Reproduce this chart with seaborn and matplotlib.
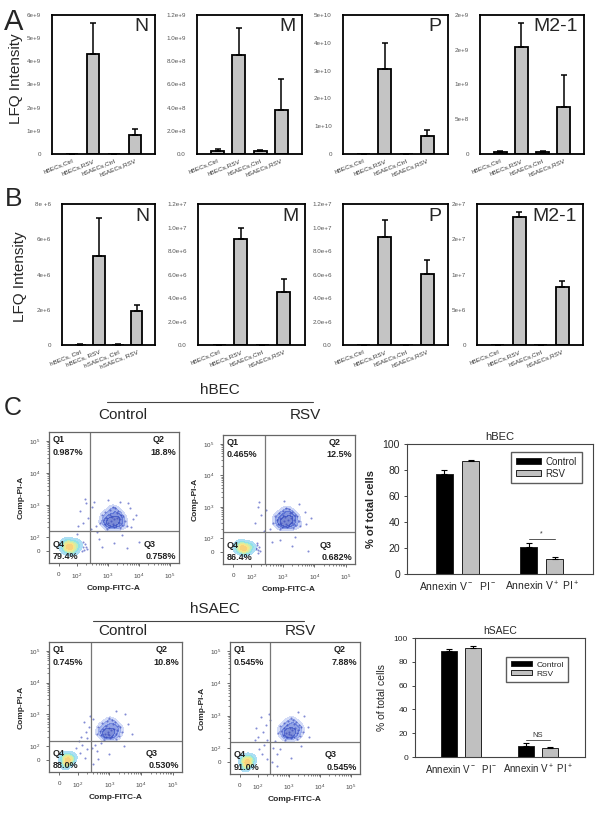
import numpy as np
import pandas as pd
import matplotlib
matplotlib.use("Agg")
import matplotlib.pyplot as plt
from matplotlib.colors import LinearSegmentedColormap
import seaborn as sns

sns.set_style("white")
plt.rcParams['font.family'] = ['Liberation Sans', 'DejaVu Sans']
plt.rcParams['mathtext.fontset'] = 'custom'
plt.rcParams['mathtext.rm'] = 'Liberation Sans'
plt.rcParams['mathtext.it'] = 'Liberation Sans'
plt.rcParams['mathtext.bf'] = 'Liberation Sans:bold'

# ---- LFQ data (panel A: proteomics, panel B: second run) ----
groups = ["hBECs,Ctrl", "hBECs,RSV", "hSAECs,Ctrl", "hSAECs,RSV"]
groups_sp = ["hBECs, Ctrl", "hBECs, RSV", "hSAECs, Ctrl", "hSAECs, RSV"]

a_n = [1.0e7, 4.30e9, 5.0e6, 0.80e9]
a_n_err = [5.0e6, 1.35e9, 3.0e6, 0.30e9]
a_m = [2.9e7, 8.55e8, 2.3e7, 3.82e8]
a_m_err = [1.4e7, 2.30e8, 0.9e7, 2.68e8]
a_p = [3.0e7, 3.05e10, 3.0e7, 0.63e10]
a_p_err = [1.0e7, 0.93e10, 1.0e7, 0.22e10]
a_m21 = [2.4e7, 1.54e9, 3.4e7, 6.7e8]
a_m21_err = [1.4e7, 0.35e9, 1.1e7, 4.6e8]

b_n = [2.0e4, 5.03e6, 2.0e4, 1.91e6]
b_n_err = [1.0e4, 2.20e6, 1.0e4, 0.35e6]
b_m = [3.0e4, 8.99e6, 3.0e4, 4.52e6]
b_m_err = [1.0e4, 0.93e6, 1.0e4, 1.07e6]
b_p = [3.0e4, 9.16e6, 3.0e4, 6.07e6]
b_p_err = [1.0e4, 1.44e6, 1.0e4, 1.18e6]
b_m21 = [3.0e4, 1.816e7, 3.0e4, 0.82e7]
b_m21_err = [1.0e4, 0.07e7, 1.0e4, 0.086e7]

a_n_ticks = [0, 1e9, 2e9, 3e9, 4e9, 5e9, 6e9]
a_n_labels = ["0", "1e+9", "2e+9", "3e+9", "4e+9", "5e+9", "6e+9"]
a_m_ticks = [0, 2e8, 4e8, 6e8, 8e8, 1.0e9, 1.2e9]
a_m_labels = ["0.0", "2.0e+8", "4.0e+8", "6.0e+8", "8.0e+8", "1.0e+9", "1.2e+9"]
a_p_ticks = [0, 1e10, 2e10, 3e10, 4e10, 5e10]
a_p_labels = ["0", "1e+10", "2e+10", "3e+10", "4e+10", "5e+10"]
a_m21_ticks = [0, 5e8, 1e9, 1.5e9, 2e9]
a_m21_labels = ["0", "5e+8", "1e+9", "2e+9", "2e+9"]
b_n_ticks = [0, 2e6, 4e6, 6e6, 8e6]
b_n_labels = ["0", "2e+6", "4e+6", "6e+6", "8e +6"]
b_mp_ticks = [0, 2e6, 4e6, 6e6, 8e6, 1.0e7, 1.2e7]
b_mp_labels = ["0.0", "2.0e+6", "4.0e+6", "6.0e+6", "8.0e+6", "1.0e+7", "1.2e+7"]
b_m21_ticks = [0, 5e6, 1e7, 1.5e7, 2e7]
b_m21_labels = ["0", "5e+6", "1e+7", "2e+7", "2e+7"]

# ---- flow cytometry (decade units: 10^2=1, 10^3=2 ...) ----
f1_cloud_x = [2.10, 2.20, 2.00, 2.30, 2.15, 2.25, 1.95, 2.05, 2.35, 2.40, 1.90, 2.12, 2.18, 2.28, 2.45,
              1.85, 2.02, 2.50, 2.08, 2.22, 1.80, 2.38, 2.55, 1.98, 2.32, 2.60, 1.75, 2.15, 2.42, 1.92]
f1_cloud_y = [1.50, 1.55, 1.45, 1.60, 1.40, 1.35, 1.60, 1.70, 1.45, 1.55, 1.40, 1.62, 1.30, 1.75, 1.38,
              1.52, 1.32, 1.65, 1.85, 1.90, 1.70, 1.28, 1.50, 1.25, 1.82, 1.35, 1.45, 1.95, 1.70, 1.78]
f1_spread_x = [1.20, 1.35, 1.10, 1.50, 1.30, 1.60, 1.55, 2.70, 2.80, 2.65, 1.45, 2.90, 1.05, 1.25, 2.00, 2.40,
               2.75, 1.70, 2.20, 2.60, 1.80, 3.00, 1.65, 2.45, 1.00,
               1.18, 1.22, 1.25, 1.15, 1.28, 1.20, 1.32, 1.12]
f1_spread_y = [1.45, 1.60, 1.80, 1.95, 2.05, 1.35, 2.10, 1.90, 1.55, 2.05, 1.25, 1.70, 1.35, 2.20, 2.15, 2.10,
               1.30, 0.95, 0.80, 0.65, 0.70, 0.85, 1.15, 1.05, 1.10,
               0.70, 0.60, 0.78, 0.55, 0.68, 0.85, 0.62, 0.75]
f1_blob_x = [0.70, 0.75, 0.80, 0.65, 0.85, 0.72, 0.60, 0.90, 0.78, 0.68, 1.00, 0.95]
f1_blob_y = [0.70, 0.65, 0.75, 0.60, 0.68, 0.80, 0.72, 0.58, 0.55, 0.85, 0.72, 0.82]

f2_cloud_x = [2.05, 2.15, 1.95, 2.25, 2.10, 2.20, 1.90, 2.00, 2.30, 2.35, 1.85, 2.08, 2.12, 2.22, 2.40,
              1.80, 1.98, 2.45, 2.02, 2.18, 1.75, 2.32, 2.50, 1.92, 2.28, 2.55, 1.70, 2.10, 2.38, 1.88]
f2_cloud_y = [1.55, 1.60, 1.50, 1.65, 1.45, 1.40, 1.65, 1.75, 1.50, 1.60, 1.45, 1.68, 1.35, 1.80, 1.42,
              1.58, 1.36, 1.70, 1.88, 1.92, 1.72, 1.32, 1.55, 1.30, 1.85, 1.40, 1.50, 1.98, 1.75, 1.82]
f2_spread_x = [1.10, 1.30, 1.20, 1.45, 1.60, 2.70, 2.75, 1.40, 2.90, 1.25, 2.05, 2.50, 1.65, 2.30, 2.80,
               1.90, 2.40, 1.15, 1.20, 1.18, 1.22, 1.14, 1.25, 1.17, 1.28]
f2_spread_y = [1.50, 1.75, 2.00, 1.90, 1.30, 1.85, 1.45, 1.25, 1.65, 2.15, 2.20, 2.10, 0.90, 0.75, 0.60,
               0.95, 1.05, 0.70, 0.62, 0.78, 0.55, 0.66, 0.72, 0.85, 0.60]
f2_blob_x = [0.70, 0.74, 0.78, 0.64, 0.84, 0.70, 0.58, 0.88, 0.76, 0.66, 0.98, 0.92]
f2_blob_y = [0.70, 0.66, 0.74, 0.62, 0.68, 0.80, 0.72, 0.60, 0.56, 0.84, 0.72, 0.80]

f3_cloud_x = [1.95, 2.05, 1.85, 2.15, 2.00, 2.10, 1.80, 1.90, 2.20, 2.25, 1.75, 1.98, 2.02, 2.12, 2.30,
              1.70, 1.88, 2.35, 1.92, 2.08, 1.65, 2.22, 2.40, 1.82, 2.18, 1.60, 2.00, 2.28, 1.78, 1.95]
f3_cloud_y = [1.45, 1.50, 1.40, 1.55, 1.35, 1.30, 1.55, 1.65, 1.40, 1.50, 1.35, 1.58, 1.25, 1.70, 1.32,
              1.48, 1.28, 1.60, 1.78, 1.82, 1.62, 1.22, 1.45, 1.20, 1.75, 1.40, 1.88, 1.65, 1.72, 1.38]
f3_spread_x = [1.10, 1.25, 1.35, 1.50, 1.05, 1.20, 1.40, 2.60, 2.70, 1.30, 2.50, 1.55, 1.60, 1.45, 1.65,
               1.50, 2.00, 2.45, 1.75, 2.20, 0.95, 1.15, 1.30, 1.08, 1.22]
f3_spread_y = [1.30, 1.45, 1.60, 1.85, 1.15, 1.75, 1.95, 1.70, 1.40, 1.25, 2.00, 1.05, 0.85, 0.95, 0.60,
               0.45, 0.75, 1.00, 1.10, 2.10, 0.95, 1.05, 0.90, 0.80, 0.62]
f3_blob_x = [0.65, 0.70, 0.60, 0.75, 0.68, 0.55, 0.80, 0.72, 0.62, 0.85, 0.58]
f3_blob_y = [0.55, 0.60, 0.50, 0.58, 0.45, 0.62, 0.52, 0.70, 0.40, 0.64, 0.68]

f4_cloud_x = [2.00, 2.10, 1.90, 2.20, 2.05, 2.15, 1.85, 1.95, 2.25, 2.30, 1.80, 2.03, 2.07, 2.17, 2.35,
              1.75, 1.93, 2.40, 1.97, 2.13, 1.70, 2.27, 2.45, 1.87, 2.23, 1.65, 2.05, 2.33, 1.83, 2.00]
f4_cloud_y = [1.50, 1.55, 1.45, 1.60, 1.40, 1.35, 1.60, 1.70, 1.45, 1.55, 1.40, 1.63, 1.30, 1.75, 1.37,
              1.53, 1.33, 1.65, 1.83, 1.87, 1.67, 1.27, 1.50, 1.25, 1.80, 1.45, 1.92, 1.70, 1.77, 1.43]
f4_spread_x = [1.00, 1.15, 1.25, 1.40, 0.95, 1.10, 1.30, 1.35, 2.60, 2.65, 1.55, 2.50, 1.50, 1.60, 1.45,
               1.70, 2.05, 2.40, 1.20, 1.05, 0.90, 1.12, 1.28, 1.60, 2.30]
f4_spread_y = [1.35, 1.50, 1.70, 1.85, 1.60, 1.95, 1.25, 2.05, 1.65, 1.35, 1.20, 2.00, 1.00, 0.80, 0.55,
               0.95, 0.70, 1.05, 1.10, 0.95, 1.25, 0.80, 0.65, 0.45, 2.10]
f4_blob_x = [0.62, 0.67, 0.57, 0.72, 0.65, 0.52, 0.77, 0.70, 0.60, 0.82, 0.55]
f4_blob_y = [0.55, 0.60, 0.50, 0.58, 0.45, 0.62, 0.52, 0.70, 0.40, 0.64, 0.68]

q_hbec_ctrl = ["0.987%", "18.8%", "0.758%", "79.4%"]
q_hbec_rsv = ["0.465%", "12.5%", "0.682%", "86.4%"]
q_hsaec_ctrl = ["0.745%", "10.8%", "0.530%", "88.0%"]
q_hsaec_rsv = ["0.545%", "7.88%", "0.545%", "91.0%"]

flow_ticks = [0.42, 1, 2, 3, 4]
flow_yticks = [0.56, 1, 2, 3, 4]
flow_ticklabels = ["0", "$10^2$", "$10^3$", "$10^4$", "$10^5$"]

# ---- Annexin V / PI summary ----
stain = ["Annexin V$^-$  PI$^-$", "Annexin V$^+$ PI$^+$"]
hbec_ctrl = [77, 20.8]
hbec_ctrl_err = [3, 3.2]
hbec_rsv = [87, 11.5]
hbec_rsv_err = [1, 1.5]
hsaec_ctrl = [89, 9.5]
hsaec_ctrl_err = [2, 2]
hsaec_rsv = [92, 7.5]
hsaec_rsv_err = [1, 0.6]

W, H = 604, 813
fig = plt.figure(figsize=(W / 100, H / 100), dpi=100)


def box(l, t, r, b):
    return fig.add_axes([l / W, 1 - b / H, (r - l) / W, (b - t) / H])


def lfq_panel(rect, labels, vals, errs, ticks, ticklabels, name):
    ax = box(*rect)
    df = pd.DataFrame({'grp': labels, 'val': vals})
    sns.barplot(data=df, x='grp', y='val', color='#c4c4c4', saturation=1, edgecolor='black',
                linewidth=1.3, width=0.6, ax=ax)
    ax.errorbar(range(len(vals)), vals, yerr=[np.zeros(len(vals)), errs], fmt='none',
                ecolor='black', elinewidth=1.1, capsize=2, capthick=1.1)
    ax.set_xlim(-0.97, 3.97)
    ax.set_ylim(ticks[0], ticks[-1])
    ax.set_yticks(ticks)
    ax.set_yticklabels(ticklabels, fontsize=4.5, color='#555')
    ax.set_xticks(range(4))
    ax.set_xticklabels(labels, rotation=22, ha='right', rotation_mode='anchor', fontsize=4.6, color='#333')
    ax.tick_params(axis='y', length=0, pad=8)
    ax.tick_params(axis='x', length=0, pad=3)
    ax.set_xlabel('')
    ax.set_ylabel('')
    for s in ax.spines.values():
        s.set_visible(True)
        s.set_linewidth(1.3)
        s.set_color('black')
    ax.text(0.94, 0.975, name, transform=ax.transAxes, ha='right', va='top', fontsize=14)
    return ax


lfq_panel((52, 15, 155, 154), groups, a_n, a_n_err, a_n_ticks, a_n_labels, "N")
lfq_panel((197, 15, 302, 154), groups, a_m, a_m_err, a_m_ticks, a_m_labels, "M")
lfq_panel((343, 15, 448, 154), groups, a_p, a_p_err, a_p_ticks, a_p_labels, "P")
lfq_panel((480, 15, 584, 154), groups, a_m21, a_m21_err, a_m21_ticks, a_m21_labels, "M2-1")

lfq_panel((62, 204, 155, 345), groups_sp, b_n, b_n_err, b_n_ticks, b_n_labels, "N")
lfq_panel((198, 204, 305, 345), groups, b_m, b_m_err, b_mp_ticks, b_mp_labels, "M")
lfq_panel((343, 204, 448, 345), groups, b_p, b_p_err, b_mp_ticks, b_mp_labels, "P")
lfq_panel((477, 204, 583, 345), groups, b_m21, b_m21_err, b_m21_ticks, b_m21_labels, "M2-1")

blue_cmap = LinearSegmentedColormap.from_list('cloud', ['#dde4fa', '#8aa0ea', '#3a58d0', '#1a34b0'])
q4_cmap = LinearSegmentedColormap.from_list('q4', ['#c4dcf6', '#88e0f0', '#c8f0b0', '#f8e888', '#f8c878'])


def flow_panel(rect, cx, cy, sx, sy, bx, by, gx, gy, pcts):
    ax = box(*rect)
    sns.kdeplot(x=cx, y=cy, fill=True, cmap=blue_cmap, levels=5, thresh=0.2, bw_adjust=1.0,
                alpha=0.6, ax=ax)
    sns.scatterplot(x=cx + sx, y=cy + sy, s=2.2, color='#3040b8', linewidth=0, alpha=0.6, ax=ax)
    sns.kdeplot(x=bx, y=by, fill=True, cmap=q4_cmap, levels=7, thresh=0.06, bw_adjust=1.4, ax=ax)
    ax.axvline(gx, color='#777', lw=0.9)
    ax.axhline(gy, color='#777', lw=0.9)
    ax.set_xlim(0.1, 4.29)
    ax.set_ylim(0.19, 4.28)
    ax.set_xticks(flow_ticks)
    ax.set_xticklabels(flow_ticklabels, fontsize=4.5, color='#444')
    ax.set_yticks(flow_yticks)
    ax.set_yticklabels(flow_ticklabels, fontsize=4.5, color='#444')
    minor = [d + np.log10(k) for d in range(1, 4) for k in range(2, 10)]
    ax.set_xticks(minor, minor=True)
    ax.set_yticks(minor, minor=True)
    ax.tick_params(which='major', length=2.5, width=0.6, color='#555', pad=4, direction='out')
    ax.tick_params(which='minor', length=1.3, width=0.5, color='#555', direction='out')
    ax.tick_params(bottom=True, left=True, which='both')
    ax.set_xlabel('Comp-FITC-A', fontsize=6, fontweight='bold', labelpad=3)
    ax.set_ylabel('Comp-PI-A', fontsize=6, fontweight='bold', labelpad=3)
    for s in ax.spines.values():
        s.set_visible(True)
        s.set_linewidth(0.9)
        s.set_color('#666')
    kw = dict(transform=ax.transAxes, fontsize=6.5, fontweight='bold', color='#222')
    ax.text(0.03, 0.975, "Q1", va='top', ha='left', **kw)
    ax.text(0.03, 0.88, pcts[0], va='top', ha='left', **kw)
    ax.text(0.80, 0.975, "Q2", va='top', ha='left', **kw)
    ax.text(0.98, 0.88, pcts[1], va='top', ha='right', **kw)
    ax.text(0.73, 0.11, "Q3", va='bottom', ha='left', **kw)
    ax.text(0.98, 0.015, pcts[2], va='bottom', ha='right', **kw)
    ax.text(0.03, 0.11, "Q4", va='bottom', ha='left', **kw)
    ax.text(0.03, 0.015, pcts[3], va='bottom', ha='left', **kw)
    return ax


flow_panel((49, 432, 179, 563), f1_cloud_x, f1_cloud_y, f1_spread_x, f1_spread_y,
           f1_blob_x, f1_blob_y, 1.42, 1.19, q_hbec_ctrl)
flow_panel((223, 435, 355, 564), f2_cloud_x, f2_cloud_y, f2_spread_x, f2_spread_y,
           f2_blob_x, f2_blob_y, 1.42, 1.21, q_hbec_rsv)
flow_panel((49, 642, 182, 772), f3_cloud_x, f3_cloud_y, f3_spread_x, f3_spread_y,
           f3_blob_x, f3_blob_y, 1.42, 1.15, q_hsaec_ctrl)
flow_panel((230, 642, 360, 774), f4_cloud_x, f4_cloud_y, f4_spread_x, f4_spread_y,
           f4_blob_x, f4_blob_y, 1.38, 1.19, q_hsaec_rsv)


def pct_panel(rect, title, ctrl, ctrl_err, rsv, rsv_err, sig, sig_y, big, leg_anchor):
    ax = box(*rect)
    df = pd.DataFrame({'stain': stain * 2, 'group': ['Control'] * 2 + ['RSV'] * 2,
                       'pct': ctrl + rsv})
    sns.barplot(data=df, x='stain', y='pct', hue='group', palette=['black', '#c0c0c0'],
                saturation=1, edgecolor='#222', linewidth=0.7, width=0.62, gap=0.35, ax=ax)
    errs = [ctrl_err, rsv_err]
    cen = []
    for cont, e in zip(ax.containers, errs):
        xs = [b.get_x() + b.get_width() / 2 for b in cont]
        ys = [b.get_height() for b in cont]
        cen.append(xs)
        ax.errorbar(xs, ys, yerr=[np.zeros(len(e)), e], fmt='none', ecolor='black',
                    elinewidth=0.8, capsize=2.2, capthick=0.8)
    ax.plot([cen[0][1], cen[1][1]], [sig_y, sig_y], color='#555', lw=0.7)
    ax.text((cen[0][1] + cen[1][1]) / 2, sig_y + 1.5, sig, ha='center', va='bottom',
            fontsize=5 if sig == '*' else 5.5, color='#333')
    ax.set_xlim(-0.6, 1.61)
    ax.set_ylim(0, 100)
    ax.set_yticks([0, 20, 40, 60, 80, 100])
    fs = 7.5 if big else 6
    ax.tick_params(axis='y', labelsize=fs, length=2, width=0.6, left=True, pad=3)
    ax.tick_params(axis='x', labelsize=7.5 if big else 7, length=0, pad=4)
    ax.set_xlabel('')
    ax.set_ylabel('% of total cells', fontsize=8 if big else 7.5,
                  fontweight='bold' if big else 'normal', labelpad=5)
    ax.set_title(title, fontsize=8 if big else 7.5, pad=3)
    for s in ax.spines.values():
        s.set_visible(True)
        s.set_linewidth(0.8)
        s.set_color('#444')
    ax.legend(loc='upper right', bbox_to_anchor=leg_anchor, frameon=True, fancybox=False,
              edgecolor='#333', fontsize=7 if big else 6, handlelength=2.6, handleheight=0.5,
              borderpad=0.5, labelspacing=0.2, handletextpad=0.5, borderaxespad=0)
    return ax


pct_panel((407, 444, 593, 574), "hBEC", hbec_ctrl, hbec_ctrl_err, hbec_rsv, hbec_rsv_err,
          "*", 27, True, (0.94, 0.94))
pct_panel((415, 638, 585, 757), "hSAEC", hsaec_ctrl, hsaec_ctrl_err, hsaec_rsv, hsaec_rsv_err,
          "NS", 14, False, (0.9, 0.84))

# panel letters and headings
fig.text(14 / W, 1 - 22 / H, "A", fontsize=21, ha='center', va='center')
fig.text(14 / W, 1 - 199 / H, "B", fontsize=19, ha='center', va='center')
fig.text(13 / W, 1 - 408 / H, "C", fontsize=18, ha='center', va='center')
fig.text(16 / W, 1 - 79 / H, "LFQ Intensity", fontsize=11, rotation=90, ha='center', va='center')
fig.text(20 / W, 1 - 277 / H, "LFQ Intensity", fontsize=11, rotation=90, ha='center', va='center')

fig.text(220 / W, 1 - 390 / H, "hBEC", fontsize=11, ha='center', va='center')
fig.add_artist(plt.Line2D([107 / W, 313 / W], [1 - 402 / H] * 2, color='#444', lw=0.8))
fig.text(123 / W, 1 - 415 / H, "Control", fontsize=11, ha='center', va='center')
fig.text(305 / W, 1 - 415 / H, "RSV", fontsize=11, ha='center', va='center')

fig.text(215 / W, 1 - 609 / H, "hSAEC", fontsize=11, ha='center', va='center')
fig.add_artist(plt.Line2D([93 / W, 304 / W], [1 - 621 / H] * 2, color='#444', lw=0.8))
fig.text(123 / W, 1 - 631 / H, "Control", fontsize=11, ha='center', va='center')
fig.text(300 / W, 1 - 631 / H, "RSV", fontsize=11, ha='center', va='center')

fig.savefig("out.png", dpi=100, facecolor='white')
